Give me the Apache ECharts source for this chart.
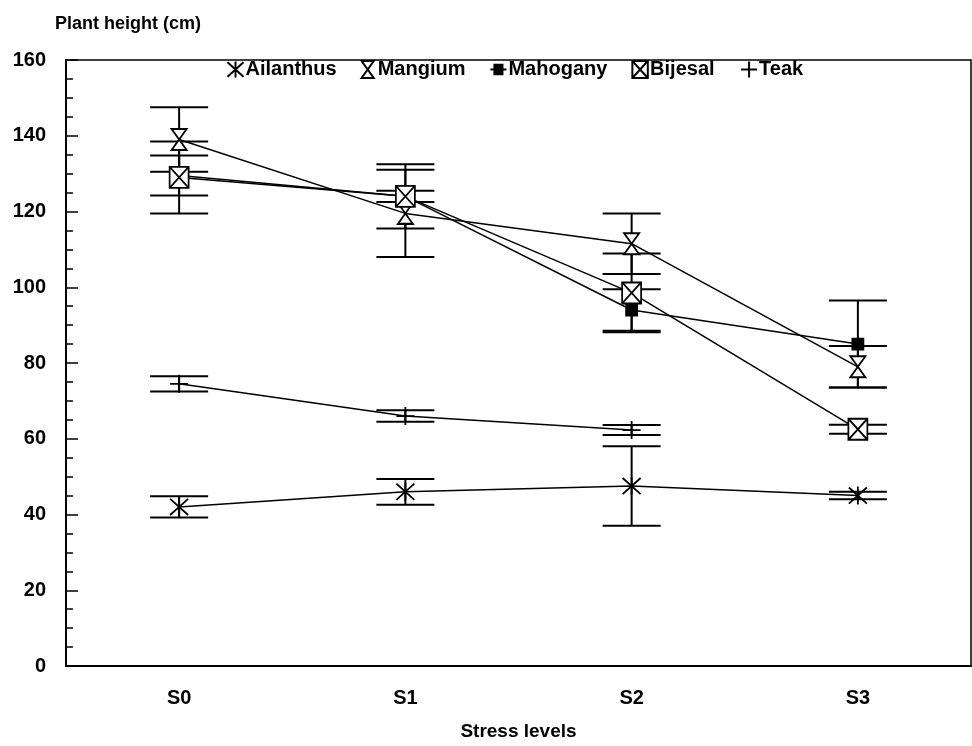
<!DOCTYPE html>
<html>
<head>
<meta charset="utf-8">
<script src="https://cdn.jsdelivr.net/npm/echarts@6/dist/echarts.min.js"></script>
<style>html,body{margin:0;padding:0;background:#fff}#c{width:972px;height:746px}</style>
</head>
<body>
<div id="c"></div>
<script>
// ---- data ----
const categories = ['S0', 'S1', 'S2', 'S3'];
const ailanthus    = [42, 46, 47.5, 45];
const ailanthusSE  = [2.8, 3.4, 10.5, 1];
const mangium      = [139, 119.5, 111.5, 79];
const mangiumSE    = [8.5, 11.5, 8, 5.5];
const mahogany     = [129.5, 124, 94, 85];
const mahoganySE   = [5.3, 8.5, 5.5, 11.5];
const bijesal      = [129, 124, 98.5, 62.5];
const bijesalSE    = [9.5, 1.5, 10.4, 1.2];
const teak         = [74.5, 66, 62.3, null];
const teakSE       = [2, 1.5, 1.3, null];
const yTicks = { min: 0, max: 160, interval: 20 };

const FONT = 'Liberation Sans';
const BLACK = '#000';

const symAsterisk = 'path://M5,0L5,10M0,0.5L10,9.5M10,0.5L0,9.5';
const symHourglass = 'path://M0,0L10,0L0,14L10,14Z';
const symSquare = 'path://M0,0L10,0L10,10L0,10Z';
const symSquareLegend = 'path://M0,5L10,5M2.5,2L7.5,2L7.5,8L2.5,8Z';
const symBoxX = 'path://M0,0L10,0L10,11L0,11ZM0,0L10,11M10,0L0,11';
const symPlus = 'path://M5,0L5,10M0,5L10,5';

function errData(mean, se) {
  const out = [];
  for (let i = 0; i < mean.length; i++) {
    if (mean[i] == null) continue;
    out.push([i, mean[i] - se[i], mean[i] + se[i]]);
  }
  return out;
}

function renderErr(params, api) {
  const lo = api.coord([api.value(0), api.value(1)]);
  const hi = api.coord([api.value(0), api.value(2)]);
  const hw = 29;
  const st = { stroke: BLACK, lineWidth: 2 };
  return {
    type: 'group',
    children: [
      { type: 'line', shape: { x1: lo[0], y1: lo[1], x2: hi[0], y2: hi[1] }, style: st },
      { type: 'line', shape: { x1: lo[0] - hw, y1: lo[1], x2: lo[0] + hw, y2: lo[1] }, style: st },
      { type: 'line', shape: { x1: hi[0] - hw, y1: hi[1], x2: hi[0] + hw, y2: hi[1] }, style: st }
    ]
  };
}

function errSeries(name, mean, se) {
  return {
    name: name + ' SE', type: 'custom', renderItem: renderErr,
    data: errData(mean, se), z: 1, silent: true, animation: false
  };
}

function lineSeries(name, data, symbol, size, fill) {
  return {
    name: name, type: 'line', data: data, symbol: symbol, symbolSize: size,
    showAllSymbol: true, connectNulls: false, z: 3, animation: false,
    lineStyle: { color: BLACK, width: 1.5 },
    itemStyle: { color: fill, borderColor: BLACK, borderWidth: 1.8 }
  };
}

const chart = echarts.init(document.getElementById('c'), null, { renderer: 'canvas' });
chart.setOption({
  backgroundColor: '#fff',
  animation: false,
  title: {
    text: 'Plant height (cm)', left: 50, top: 10,
    textStyle: { fontFamily: FONT, fontSize: 18, fontWeight: 'bold', color: BLACK }
  },
  legend: {
    top: 54, left: 220, itemGap: 24, itemWidth: 16, itemHeight: 17,
    textStyle: { fontFamily: FONT, fontSize: 20, fontWeight: 'bold', color: BLACK, padding: [0, 0, 0, -3] },
    data: [
      { name: 'Ailanthus', icon: symAsterisk },
      { name: 'Mangium', icon: symHourglass },
      { name: 'Mahogany', icon: symSquareLegend },
      { name: 'Bijesal', icon: symBoxX },
      { name: 'Teak', icon: symPlus }
    ]
  },
  grid: { left: 66, right: 1, top: 60, bottom: 79, show: true, borderColor: BLACK, borderWidth: 1.5 },
  xAxis: {
    type: 'category', data: categories, boundaryGap: true,
    name: 'Stress levels', nameLocation: 'middle', nameGap: 56,
    nameTextStyle: { fontFamily: FONT, fontSize: 19, fontWeight: 'bold', color: BLACK },
    axisLine: { lineStyle: { color: BLACK, width: 2 } },
    axisTick: { inside: true, alignWithLabel: true, length: 10, lineStyle: { color: BLACK, width: 1.5 } },
    axisLabel: { fontFamily: FONT, fontSize: 20, fontWeight: 'bold', color: BLACK, margin: 22 },
    splitLine: { show: false }
  },
  yAxis: {
    type: 'value', min: yTicks.min, max: yTicks.max, interval: yTicks.interval,
    axisLine: { show: true, lineStyle: { color: BLACK, width: 2 } },
    axisTick: { show: true, inside: true, length: 12, lineStyle: { color: BLACK, width: 1.5 } },
    minorTick: { show: true, splitNumber: 4, length: 7, lineStyle: { color: BLACK, width: 1.5 } },
    axisLabel: { fontFamily: FONT, fontSize: 20, fontWeight: 'bold', color: BLACK, margin: 20 },
    splitLine: { show: false }
  },
  series: [
    errSeries('Ailanthus', ailanthus, ailanthusSE),
    errSeries('Mangium', mangium, mangiumSE),
    errSeries('Mahogany', mahogany, mahoganySE),
    errSeries('Bijesal', bijesal, bijesalSE),
    errSeries('Teak', teak, teakSE),
    lineSeries('Ailanthus', ailanthus, symAsterisk, 18, 'none'),
    lineSeries('Teak', teak, symPlus, 18, 'none'),
    lineSeries('Mangium', mangium, symHourglass, [15, 21], '#fff'),
    lineSeries('Mahogany', mahogany, symSquare, 11, BLACK),
    lineSeries('Bijesal', bijesal, symBoxX, [19, 21], '#fff')
  ]
});
</script>
</body>
</html>
